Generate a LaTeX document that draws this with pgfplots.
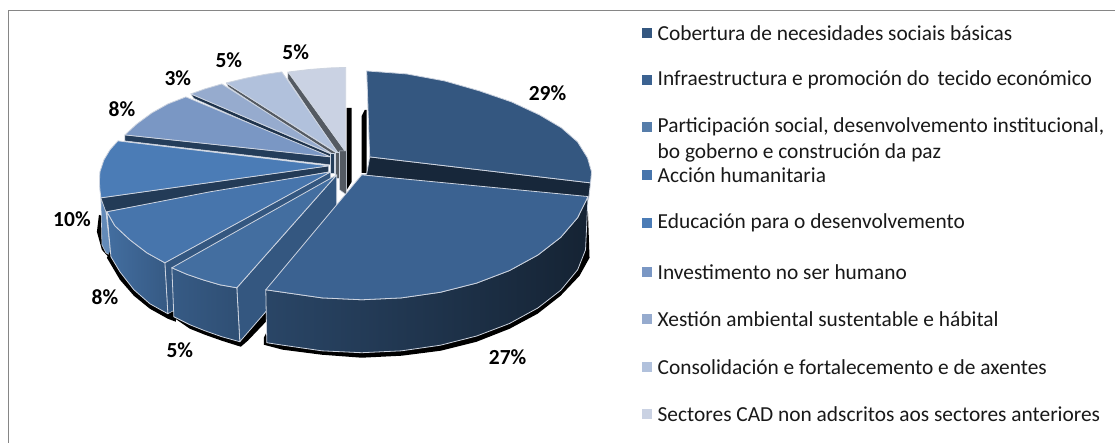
\documentclass[border=0pt]{standalone}
\usepackage{fontspec}
\setmainfont{Carlito}
\usepackage{pgfplots}
\pgfplotsset{compat=1.18}
\definecolor{edge}{RGB}{205,212,224}
\definecolor{frame}{RGB}{134,134,134}
\definecolor{legtext}{RGB}{25,25,25}
\definecolor{sa}{RGB}{52,87,128}
\definecolor{sb}{RGB}{59,98,145}
\definecolor{sc}{RGB}{67,110,160}
\definecolor{sd}{RGB}{71,117,172}
\definecolor{se}{RGB}{75,124,182}
\definecolor{sf}{RGB}{122,151,196}
\definecolor{sg}{RGB}{150,171,206}
\definecolor{sh}{RGB}{177,193,220}
\definecolor{si}{RGB}{202,210,227}
\definecolor{wgrey}{RGB}{84,90,98}

\begin{document}
\begin{tikzpicture}
\begin{axis}[
    width=1116pt, height=443pt,
    scale only axis,
    xmin=0, xmax=1116, ymin=0, ymax=443,
    y dir=reverse,
    axis lines=none,
    enlargelimits=false,
    clip=false,
    no marks,
    every axis plot/.append style={forget plot, line join=round},
]
% page and frame
\addplot[fill=white, draw=none] coordinates {(0,0)(1116,0)(1116,443)(0,443)} -- cycle;
\addplot[frame, line width=1.8pt] coordinates {(8.5,443)(8.5,10.5)(1116,10.5)};

% black shadows and bars behind the slices
\addplot[fill=black, draw=none] coordinates {(347,108)(352,108)(352,182)(347,190)} -- cycle;
\addplot[fill=black, draw=none] coordinates {(362,116)(365,110)(367,110)(367,173)(362,173)} -- cycle;

% slice 9, 5%
\addplot[fill=wgrey, draw=edge, line width=0.5pt] coordinates {(288,72)(346,152)(339,155)(288,79)} -- cycle;
\addplot[fill=si, draw=edge, line width=0.8pt] coordinates {(346,152)(289,72)(310,69.5)(330,68)(346,67.5)} -- cycle;
% slice 8, 5%
\addplot[fill=wgrey, draw=edge, line width=0.5pt] coordinates {(226.5,83)(338,154)(338,160)(228.5,87)} -- cycle;
\addplot[fill=sh, draw=edge, line width=0.8pt] coordinates {(339,154)(226.5,83)(245,78.5)(265,74.5)(282,72)} -- cycle;
% slice 7, 3%
\addplot[fill=sa!60!black, draw=edge, line width=0.5pt] coordinates {(191,94)(333,155)(333,160)(194,98.5)} -- cycle;
\addplot[fill=sg, draw=edge, line width=0.8pt] coordinates {(334,155)(191,94)(205,89)(222,84)} -- cycle;
% slice 6, 8%
\addplot[fill=sa!70!black, draw=edge, line width=0.5pt] coordinates {(125,135)(331,157)(331,165)(125,141)} -- cycle;
\addplot[fill=sf, draw=edge, line width=0.8pt] coordinates {(331,157)(125,135)(137,124)(152,113)(168,104)(186,97)} -- cycle;

% cut faces in the middle
\addplot[fill=wgrey, draw=edge, line width=0.5pt] coordinates {(340,151)(346.7,151)(346.7,195)(340,190)} -- cycle;
\addplot[fill=wgrey, draw=edge, line width=0.5pt] coordinates {(335.7,152)(340,152)(340,178)(335.7,178)} -- cycle;
\addplot[fill=sa!70!black, draw=edge, line width=0.5pt] coordinates {(330.7,153)(335,153)(335,173)(330.7,173)} -- cycle;

% slice 5, 10%
\addplot[fill=black, draw=none] coordinates {(99,215)(97,232)(102,250)(111,260)(111,250)(102,216)} -- cycle;
\addplot[fill=sd!85!white, draw=edge, line width=0.6pt] coordinates {(101,198)(106,212)(111,256)(106,253)(102,245)} -- cycle;
\addplot[fill=sb!60!black, draw=edge, line width=0.5pt] coordinates {(101,198)(329,166)(329,172)(106,212)} -- cycle;
\addplot[fill=se, draw=edge, line width=0.8pt] coordinates {(329,166)(118,141)(110,150)(104,160)(100,172)(99.5,182)(100,190)(101,198)} -- cycle;

% slice 4, 8%
\addplot[fill=black, draw=none] coordinates {(107,258)(120,280)(134,296)(150,309)(168,319)(176,322)(176,312)(111,250)} -- cycle;
\addplot[fill=sa, draw=edge, line width=0.5pt] coordinates {(165,263)(331,172)(331,225)(168,314)} -- cycle;
\addplot[left color=sc, right color=sa!90!sc, draw=edge, line width=0.8pt] coordinates {(107,212)(115,226)(130,240)(147,253)(165,263)(168,314)(150,304)(134,290)(120,272)(111,257)} -- cycle;
\addplot[fill=sd, draw=edge, line width=0.8pt] coordinates {(331,172)(210,192)(107,212)(115,226)(130,240)(147,253)(165,263)} -- cycle;

% slice 3, 5%
\addplot[fill=black, draw=none] coordinates {(174,318)(190,329)(205,335)(222,341)(241,347)(248,341)(268,320)(266,310)(240,330)} -- cycle;
\addplot[fill=sa, draw=edge, line width=0.8pt] coordinates {(237,288)(337,175)(337,230)(240,342)} -- cycle;
\addplot[left color=sa!85!sc, right color=sa!90!black, draw=edge, line width=0.8pt] coordinates {(172,268)(187,274.5)(203,280)(220,285)(237,288)(240,342)(222,337)(205,331)(190,325)(174,317)} -- cycle;
\addplot[fill=sc, draw=edge, line width=0.8pt] coordinates {(337,175)(172,268)(187,274.5)(203,280)(220,285)(237,288)} -- cycle;

% slice 1, 29%
\addplot[fill=sa!45!black, draw=edge, line width=0.8pt] coordinates {(370,157)(591,183)(589,200)(362,175)(367,174)} -- cycle;
\addplot[fill=sa, draw=edge, line width=0.8pt] coordinates {(370,157)(367,71)(407,74)(445,81)(480,91)(512,102)(540,115)(562,128)(578,142)(588,158)(592,172)(591,183)} -- cycle;

% slice 2, 27%
\addplot[fill=black, draw=none] coordinates {(588,200)(590,258)(580,276)(561,296)(538,314)(510,329)(477,342)(441,351)(402,356)(362,358)(322,355)(283,350)(264,345)(264,338)(268,330)} -- cycle;
\addplot[left color=sa!80!black, middle color=sa!55!black, right color=sa!40!black, draw=edge, line width=0.8pt] coordinates {(588.5,196.7)(578.1,217.8)(561.2,237.5)(538.2,255.3)(509.8,270.8)(477,283.3)(440.7,292.5)(401.9,298.1)(362,300)(322.1,298.1)(283.3,292.5)(266,290)(267,343)(283.3,345.5)(322.1,351.1)(362,353)(401.9,351.1)(440.7,345.5)(477,336.3)(509.8,323.8)(538.2,308.3)(561.2,290.5)(578.1,270)(586,250)} -- cycle;
\addplot[fill=sb, draw=edge, line width=0.8pt] coordinates {(362,175)(588.5,196.7)(578.1,217.8)(561.2,237.5)(538.2,255.3)(509.8,270.8)(477,283.3)(440.7,292.5)(401.9,298.1)(362,300)(322.1,298.1)(283.3,292.5)(266,290)} -- cycle;

% percent labels
\begin{scope}[every node/.style={font=\fontsize{21.5}{24}\selectfont\bfseries}]
\node at (axis cs:548,93) {29\%};
\node at (axis cs:508,357) {27\%};
\node at (axis cs:180,350) {5\%};
\node at (axis cs:105,297) {8\%};
\node at (axis cs:72,219) {10\%};
\node at (axis cs:122,109) {8\%};
\node at (axis cs:178,78) {3\%};
\node at (axis cs:229,60) {5\%};
\node at (axis cs:296,52) {5\%};
\end{scope}

% legend keys
\addplot[fill=sa, draw=none] coordinates {(642.5,28)(652.5,28)(652.5,38)(642.5,38)} -- cycle;
\addplot[fill=sb, draw=none] coordinates {(642.5,75)(652.5,75)(652.5,85)(642.5,85)} -- cycle;
\addplot[fill=sc!90!white, draw=none] coordinates {(642.5,122)(652.5,122)(652.5,132)(642.5,132)} -- cycle;
\addplot[fill=sd, draw=none] coordinates {(642.5,170)(652.5,170)(652.5,180)(642.5,180)} -- cycle;
\addplot[fill=se, draw=none] coordinates {(642.5,218)(652.5,218)(652.5,228)(642.5,228)} -- cycle;
\addplot[fill=sf, draw=none] coordinates {(642.5,267)(652.5,267)(652.5,277)(642.5,277)} -- cycle;
\addplot[fill=sg, draw=none] coordinates {(642.5,314)(652.5,314)(652.5,324)(642.5,324)} -- cycle;
\addplot[fill=sh, draw=none] coordinates {(642.5,362)(652.5,362)(652.5,372)(642.5,372)} -- cycle;
\addplot[fill=si, draw=none] coordinates {(642.5,409)(652.5,409)(652.5,419)(642.5,419)} -- cycle;
\begin{scope}[every node/.style={anchor=west, inner sep=0pt, text=legtext, font=\fontsize{21.4}{26}\selectfont}]
\node at (axis cs:658,33) {Cobertura de necesidades sociais básicas};
\node at (axis cs:658,80) {Infraestructura e promoción do\, tecido económico};
\node at (axis cs:658,127) {Participación social, desenvolvemento institucional,};
\node at (axis cs:658,153) {bo goberno e construción da paz};
\node at (axis cs:658,175) {Acción humanitaria};
\node at (axis cs:658,223) {Educación para o desenvolvemento};
\node at (axis cs:658,272) {Investimento no ser humano};
\node at (axis cs:658,319) {Xestión ambiental sustentable e hábital};
\node at (axis cs:658,367) {Consolidación e fortalecemento e de axentes};
\node at (axis cs:658,414) {Sectores CAD non adscritos aos sectores anteriores};
\end{scope}
\end{axis}
\end{tikzpicture}
\end{document}
